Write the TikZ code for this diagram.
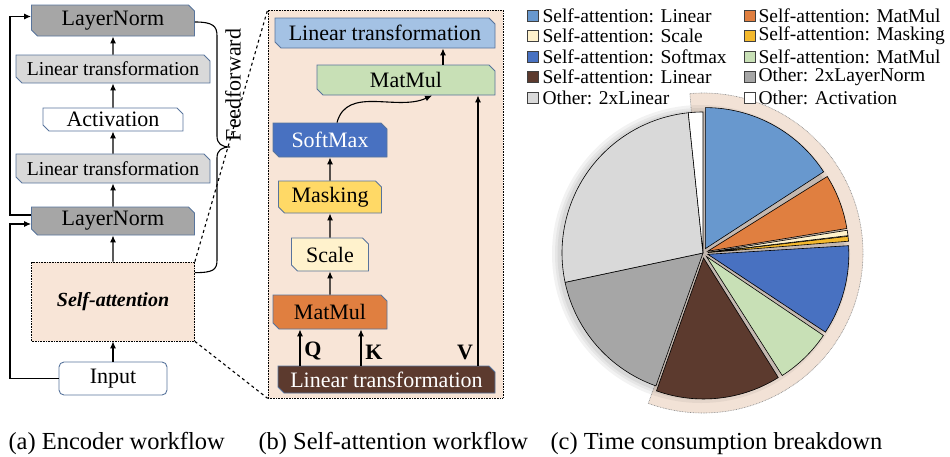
\documentclass[tikz,border=0pt]{standalone}
\usepackage{fontspec}
\setmainfont{Liberation Serif}
\usetikzlibrary{shapes.misc,arrows.meta}
\definecolor{bord}{RGB}{88,116,156}
\definecolor{lngray}{RGB}{166,166,166}
\definecolor{ltgray}{RGB}{217,217,217}
\definecolor{sabg}{RGB}{248,229,215}
\definecolor{lblue}{RGB}{164,194,228}
\definecolor{plblue}{RGB}{104,152,206}
\definecolor{mmgreen}{RGB}{200,224,182}
\definecolor{smblue}{RGB}{72,113,193}
\definecolor{maskyel}{RGB}{255,217,102}
\definecolor{gold}{RGB}{244,185,45}
\definecolor{cream}{RGB}{255,242,204}
\definecolor{mmorange}{RGB}{224,127,64}
\definecolor{brown}{RGB}{92,58,46}
\definecolor{ringc}{RGB}{242,226,214}
\definecolor{gapc}{RGB}{196,184,176}
\begin{document}
\begin{tikzpicture}[x=1pt, y=1pt, >={Latex[length=7pt,width=6pt]}, line width=1.1pt,
  blk/.style={chamfered rectangle, chamfered rectangle corners={north east,south west},
    chamfered rectangle sep=3pt, draw=bord, line width=.9pt, inner sep=0pt,
    font=\fontsize{22}{24}\selectfont},
  box/.style={draw, dash pattern=on .8pt off .8pt, line width=.7pt, fill=sabg, inner sep=0pt},
  slice/.style={draw=black, line width=.6pt},
  lgbox/.style={draw=black!75, line width=.6pt},
  lgtxt/.style={anchor=west, inner sep=0pt, font=\fontsize{19.5}{21}\selectfont},
  capt/.style={anchor=base west, inner sep=0pt, font=\fontsize{24.5}{26}\selectfont}]
\useasboundingbox (0,0) rectangle (950,-456);

% (a) encoder
\node[box, minimum width=163, minimum height=79] (sa) at (113,-301.5) {\fontsize{20}{22}\selectfont\bfseries\itshape Self-attention};
\node[draw=bord, line width=.9pt, rounded corners=5pt, minimum width=108, minimum height=33, inner sep=0pt, font=\fontsize{22}{24}\selectfont] (inp) at (113,-378.5) {Input};
\node[blk, fill=lngray, minimum width=163, minimum height=28] (ln1) at (113,-221) {LayerNorm};
\node[blk, fill=ltgray, minimum width=194, minimum height=29, font=\fontsize{19.7}{21}\selectfont] (lt1) at (113,-168.5) {Linear transformation};
\node[blk, fill=white, minimum width=140, minimum height=23] (act) at (113,-119.5) {Activation};
\node[blk, fill=ltgray, minimum width=194, minimum height=28, font=\fontsize{19.7}{21}\selectfont] (lt2) at (113,-69) {Linear transformation};
\node[blk, fill=lngray, minimum width=163, minimum height=31] (ln2) at (113,-20.5) {LayerNorm};

\draw[->] (inp) -- (sa);
\draw[->] (sa) -- (ln1);
\draw[->] (ln1) -- (lt1);
\draw[->] (lt1) -- (act);
\draw[->] (act) -- (lt2);
\draw[->] (lt2) -- (ln2);
\coordinate (sk) at (10,0);
\draw[->] (inp.west) -- (inp.west -| sk) |- ([yshift=-3pt]ln1.west);
\draw[->] ([yshift=6pt]ln1.west) -- ([yshift=6pt]ln1.west -| sk) |- ([yshift=4pt]ln2.west);

\draw ([yshift=-1.5pt]ln2.east) .. controls +(18,0) and +(0,10) .. (217,-36) -- (217,-136)
  .. controls +(0,-8) and +(-8,0) .. (230,-147) .. controls +(-8,0) and +(0,8) .. (217,-158)
  -- (217,-260) .. controls +(0,-10) and +(18,0) .. ([yshift=-11pt]sa.north east);
\node[rotate=90, inner sep=0pt, font=\fontsize{22}{24}\selectfont] (ff) at (233,-85) {Feedforward};

% (b) self-attention
\node[box, minimum width=235, minimum height=388] (pan) at (385.5,-204) {};
\draw[dashed] (sa.north east) -- (pan.north west);
\draw[dashed] (sa.south east) -- (pan.south west);

\node[blk, fill=lblue, minimum width=220, minimum height=30] (tlin) at (385,-33) {Linear transformation};
\node[blk, fill=mmgreen, minimum width=178, minimum height=30] (mm2) at (406,-80) {MatMul};
\node[blk, fill=smblue, text=white, minimum width=114, minimum height=34] (sm) at (330,-140) {SoftMax};
\node[blk, fill=maskyel, minimum width=103, minimum height=32] (mask) at (330,-197) {Masking};
\node[blk, fill=cream, minimum width=77, minimum height=33] (scl) at (330,-254.5) {Scale};
\node[blk, fill=mmorange, minimum width=114, minimum height=34] (mm1) at (330,-312) {MatMul};
\node[blk, fill=brown, text=white, minimum width=217, minimum height=27] (blin) at (386.5,-379.5) {Linear transformation};

\draw[->] (mm1) -- (scl);
\draw[->] (scl) -- (mask);
\draw[->] (mask) -- (sm);
\coordinate (q) at (300,0);
\coordinate (k) at (361,0);
\coordinate (v) at (478,0);
\coordinate (w) at (443,0);
\draw[->] (q |- blin.north) -- (q |- mm1.south);
\draw[->] (k |- blin.north) -- (k |- mm1.south);
\draw[->] (v |- blin.north) -- (v |- mm2.south);
\draw[->] (w |- mm2.north) -- (w |- tlin.south);
\draw[->] ([xshift=7pt]sm.north) to[out=75, in=205] ([xshift=26pt]mm2.south);
\node[font=\fontsize{22}{24}\selectfont\bfseries] (lq) at (313,-351) {Q};
\node[font=\fontsize{22}{24}\selectfont\bfseries] (lk) at (374,-352) {K};
\node[font=\fontsize{22}{24}\selectfont\bfseries] (lv) at (465,-352) {V};

% (c) breakdown
\coordinate (pc) at (703,-253);
\filldraw[fill=ringc, draw=black!45, dash pattern=on .8pt off .8pt, line width=.6pt]
  (pc) -- ++(94.7:160) arc[start angle=94.7, end angle=-110, radius=160] -- cycle;
\fill[black, opacity=.05] ([shift={(-2,-1)}]pc) circle (149);
\fill[black, opacity=.05] ([shift={(-2,-1)}]pc) circle (146);
\fill[black, opacity=.06] ([shift={(-2,-1)}]pc) circle (143.5);
\fill[gapc] (pc) -- ++(90:141) arc[start angle=90, end angle=-109.5, radius=141] -- cycle;

\filldraw[slice, fill=lngray] (pc) -- ++(-109.5:141) arc[start angle=-109.5, end angle=-168, radius=141] -- cycle;
\filldraw[slice, fill=ltgray] (pc) -- ++(-168:141) arc[start angle=-168, end angle=-264, radius=141] -- cycle;
\filldraw[slice, fill=white] (pc) -- ++(-264:141) arc[start angle=-264, end angle=-270, radius=141] -- cycle;

\filldraw[slice, fill=plblue] ([shift={(61.5:5)}]pc) -- ++(90:141) arc[start angle=90, end angle=33, radius=141] -- cycle;
\filldraw[slice, fill=mmorange] ([shift={(20.6:5)}]pc) -- ++(32:141) arc[start angle=32, end angle=9.3, radius=141] -- cycle;
\filldraw[slice, fill=cream] ([shift={(7.9:5)}]pc) -- ++(9:141) arc[start angle=9, end angle=6.8, radius=141] -- cycle;
\filldraw[slice, fill=gold] ([shift={(5.6:5)}]pc) -- ++(6.6:141) arc[start angle=6.6, end angle=4.6, radius=141] -- cycle;
\filldraw[slice, fill=smblue] ([shift={(-15:5)}]pc) -- ++(3.5:141) arc[start angle=3.5, end angle=-33.5, radius=141] -- cycle;
\filldraw[slice, fill=mmgreen] ([shift={(-45.7:5)}]pc) -- ++(-34:141) arc[start angle=-34, end angle=-57.5, radius=141] -- cycle;
\filldraw[slice, fill=brown] ([shift={(-83.7:5)}]pc) -- ++(-58:141) arc[start angle=-58, end angle=-109.5, radius=141] -- cycle;

% legend
\filldraw[lgbox, fill=plblue] (527,-10) rectangle ++(11,-11);
\node[lgtxt] (l1) at (542,-15.5) {Self-attention: Linear};
\filldraw[lgbox, fill=cream] (527,-30.5) rectangle ++(11,-11);
\node[lgtxt] (l2) at (542,-36) {Self-attention: Scale};
\filldraw[lgbox, fill=smblue] (527,-51) rectangle ++(11,-11);
\node[lgtxt] (l3) at (542,-56.5) {Self-attention: Softmax};
\filldraw[lgbox, fill=brown] (527,-71.5) rectangle ++(11,-11);
\node[lgtxt] (l4) at (542,-77) {Self-attention: Linear};
\filldraw[lgbox, fill=ltgray] (527,-92) rectangle ++(11,-11);
\node[lgtxt] (l5) at (542,-97.5) {Other: 2xLinear};
\filldraw[lgbox, fill=mmorange] (744,-10) rectangle ++(11,-11);
\node[lgtxt] (l6) at (758,-15.5) {Self-attention: MatMul};
\filldraw[lgbox, fill=gold] (744,-30.5) rectangle ++(11,-11);
\node[lgtxt] (l7) at (758,-36) {Self-attention: Masking};
\filldraw[lgbox, fill=mmgreen] (744,-51) rectangle ++(11,-11);
\node[lgtxt] (l8) at (758,-56.5) {Self-attention: MatMul};
\filldraw[lgbox, fill=lngray] (744,-71.5) rectangle ++(11,-11);
\node[lgtxt] (l9) at (758,-77) {Other: 2xLayerNorm};
\filldraw[lgbox, fill=white] (744,-92) rectangle ++(11,-11);
\node[lgtxt] (l10) at (758,-97.5) {Other: Activation};

% captions
\node[capt] (ca) at (8,-449) {(a) Encoder workflow};
\node[capt] (cb) at (258,-449) {(b) Self-attention workflow};
\node[capt] (cc) at (550,-449) {(c) Time consumption breakdown};
\end{tikzpicture}
\end{document}
